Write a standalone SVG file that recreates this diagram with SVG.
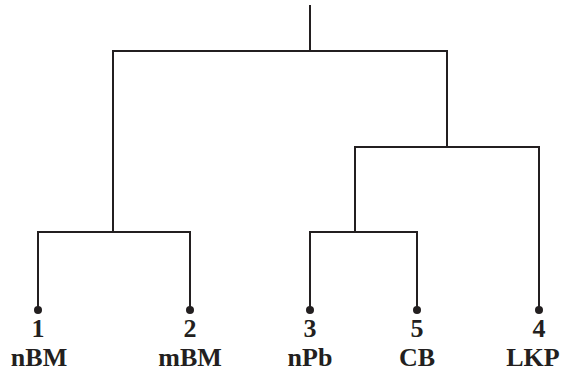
<svg xmlns="http://www.w3.org/2000/svg" width="561" height="373" viewBox="0 0 561 373">
<style>
.ln{fill:none;stroke:#231f20;stroke-width:2;stroke-linecap:butt;stroke-linejoin:miter}
.dot{fill:#231f20}
.t{font-family:"Liberation Serif","Times New Roman",serif;font-weight:bold;font-size:26px;fill:#231f20;text-anchor:middle}
</style>
<rect width="561" height="373" fill="#ffffff"/>
<g id="connectors">
<path class="ln" d="M310,5 V51"/>
<path class="ln" d="M113,232 V51 H447 V147"/>
<path class="ln" d="M355,232 V147 H539 V310"/>
<path class="ln" d="M38,310 V232 H190 V310"/>
<path class="ln" d="M310,310 V232 H417 V310"/>
</g>
<g id="leaf1"><circle class="dot" cx="38" cy="310" r="4"/><text class="t" x="38" y="337">1</text><text class="t" x="39" y="366">nBM</text></g>
<g id="leaf2"><circle class="dot" cx="190" cy="310" r="4"/><text class="t" x="190" y="337">2</text><text class="t" x="190" y="366">mBM</text></g>
<g id="leaf3"><circle class="dot" cx="310" cy="310" r="4"/><text class="t" x="310" y="337">3</text><text class="t" x="310" y="366">nPb</text></g>
<g id="leaf5"><circle class="dot" cx="417" cy="310" r="4"/><text class="t" x="417" y="337">5</text><text class="t" x="417" y="366">CB</text></g>
<g id="leaf4"><circle class="dot" cx="539" cy="310" r="4"/><text class="t" x="539" y="337">4</text><text class="t" x="533" y="366">LKP</text></g>
</svg>
